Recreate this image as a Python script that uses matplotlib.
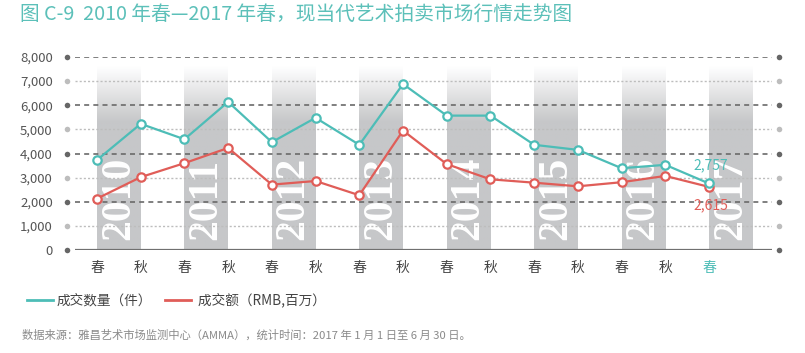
import matplotlib
matplotlib.use("Agg")
import matplotlib.pyplot as plt
import numpy as np
from matplotlib.colors import LinearSegmentedColormap
from matplotlib.lines import Line2D

plt.rcParams['font.family'] = ['Noto Sans CJK SC', 'DejaVu Sans']

# data
years = ['2010', '2011', '2012', '2013', '2014', '2015', '2016', '2017']
seasons = ['春', '秋'] * 7 + ['春']
deals = [3730, 5230, 4590, 6140, 4470, 5480, 4360, 6880, 5570, 5570,
         4360, 4150, 3390, 3530, 2757]
turnover = [2130, 3020, 3600, 4230, 2710, 2860, 2270, 4950, 3560, 2930,
            2790, 2640, 2810, 3070, 2615]
yticks = [0, 1000, 2000, 3000, 4000, 5000, 6000, 7000, 8000]

teal = '#4dbdb7'
red = '#e05d58'
band_gray = '#c6c7c9'

fig = plt.figure(figsize=(8.05, 3.53), dpi=100)
ax = fig.add_axes([75 / 805, 1 - 250 / 353, 697 / 805, 193 / 353])

x = np.arange(len(seasons))

# gray year bands with white fade at the top
band_top = 7590
cmap = LinearSegmentedColormap.from_list('band', ['white', band_gray])
rows = np.linspace(band_top, 0, 200)
grad = np.clip((band_top - rows) / (band_top - 5300), 0, 1).reshape(-1, 1)
for i, yr in enumerate(years):
    x0 = 2 * i
    ax.imshow(grad, extent=[x0, x0 + 1, 0, band_top], aspect='auto',
              cmap=cmap, vmin=0, vmax=1, zorder=0, interpolation='bilinear')
    ax.text(x0 + 0.5, 420, yr, rotation=90, ha='center', va='bottom',
            color='white', fontsize=30, fontweight='bold',
            family='Liberation Serif', zorder=1)

# grid lines and end dots
trans = ax.get_yaxis_transform()
for v in yticks:
    if v == 0:
        ax.axhline(v, color='#707070', lw=1.6, zorder=2)
        dot = '#666666'
    elif v % 2000 == 0:
        ax.axhline(v, color='#6a6a6a', lw=1.2, ls=(0, (3, 2.5)), zorder=2)
        dot = '#666666'
    else:
        ax.axhline(v, color='#bdbdbd', lw=1.0, ls=(0, (1.5, 1.5)), zorder=2)
        dot = '#bdbdbd'
    ax.plot([-0.0115, 1.010], [v, v], 'o', ms=4, color=dot, mec='none',
            transform=trans, clip_on=False, zorder=2)

ax.plot(x, deals, color=teal, lw=1.6, marker='o', ms=6, mfc='white',
        mec=teal, mew=1.6, zorder=4)
ax.plot(x, turnover, color=red, lw=1.6, marker='o', ms=6, mfc='white',
        mec=red, mew=1.6, zorder=3)

ax.annotate('{:,}'.format(deals[-1]), (x[-1], deals[-1]), xytext=(1, 13),
            textcoords='offset points', ha='center', va='center',
            color=teal, fontsize=10, zorder=5)
ax.annotate('{:,}'.format(turnover[-1]), (x[-1], turnover[-1]), xytext=(1, -13),
            textcoords='offset points', ha='center', va='center',
            color=red, fontsize=10, zorder=5)

ax.set_xlim(-0.503, 15.44)
ax.set_ylim(0, 8000)
ax.set_yticks(yticks)
ax.set_yticklabels(['{:,}'.format(v) for v in yticks], fontsize=9.5, color='#555555')
ax.set_xticks(x)
ax.set_xticklabels(seasons, fontsize=10, color='#444444')
ax.get_xticklabels()[-1].set_color(teal)
ax.tick_params(axis='y', length=0, pad=16)
ax.tick_params(axis='x', length=0, pad=8)
for s in ax.spines.values():
    s.set_visible(False)

fig.text(20 / 805, 1 - 14 / 353, '图 C-9  2010 年春—2017 年春，现当代艺术拍卖市场行情走势图',
         color='#5cc0b9', fontsize=14.2, va='center', ha='left')

handles = [Line2D([], [], color=teal, lw=2), Line2D([], [], color=red, lw=2)]
fig.legend(handles, ['成交数量（件）', ' 成交额（RMB,百万）'], ncol=2,
           loc='center left', bbox_to_anchor=(27 / 805, 1 - 300 / 353),
           frameon=False, borderpad=0, borderaxespad=0, handlelength=1.9,
           handletextpad=0.25, columnspacing=1.0,
           prop={'size': 9.8}, labelcolor='#444444')

fig.text(22 / 805, 1 - 335 / 353,
         '数据来源：雅昌艺术市场监测中心（AMMA），统计时间：2017 年 1 月 1 日至 6 月 30 日。',
         color='#8a8a8a', fontsize=8.15, va='center', ha='left')

fig.savefig('out.png', dpi=100)
